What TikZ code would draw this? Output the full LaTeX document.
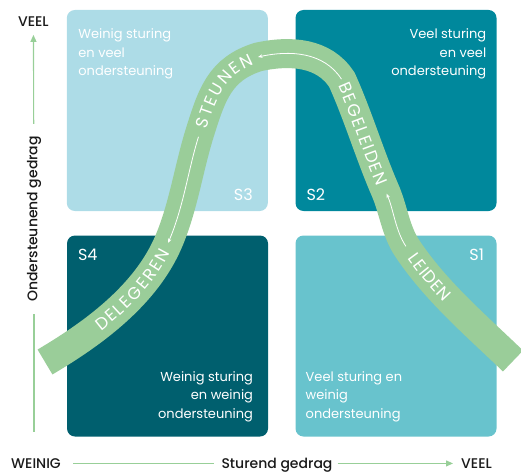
\documentclass[tikz,border=0pt]{standalone}
\usepackage{fontspec}
\setmainfont{Poppins}
\IfFontExistsTF{Poppins Medium}{\newfontfamily\axisfont{Poppins Medium}}{\newfontfamily\axisfont[FakeBold=0.8]{Poppins}}
\newfontfamily\bandfont{Poppins}
\usetikzlibrary{arrows.meta,decorations.text,positioning}

\definecolor{lightq}{HTML}{ADDCE7}
\definecolor{tealq}{HTML}{00889C}
\definecolor{darkq}{HTML}{005F6E}
\definecolor{midq}{HTML}{68C3CD}
\definecolor{bandgreen}{HTML}{9ACD99}
\definecolor{axisgreen}{HTML}{98CF98}
\definecolor{ink}{HTML}{1A1A1A}

% pieces of the green band, joint to joint
\newcommand\bandA{.. controls (94,333) and (145,295.4) .. (bA)}
\newcommand\bandB{.. controls (183.4,207.6) and (188.5,168.6) .. (bB)}
\newcommand\bandC{.. controls (212,94) and (220,69) .. (bC)}
\newcommand\bandD{.. controls (290,50) and (324,52) .. (bD)}
\newcommand\bandE{.. controls (358,115.5) and (369.4,154) .. (bE)}
\newcommand\bandF{.. controls (393.4,209.3) and (395.5,230.6) .. (bF)}
\newcommand\bandG{.. controls (435.6,291) and (475.6,325) .. (bG)}

\begin{document}
\begin{tikzpicture}[x=1pt,y=-1pt,
  quad/.style={rounded corners=8pt,minimum width=201pt,minimum height=201pt,inner sep=0pt},
  qtext/.style={text=white,font=\fontsize{13}{18.4}\selectfont,inner sep=0pt},
  qlabel/.style={text=white,font=\fontsize{16}{16}\selectfont,inner sep=0pt},
  axislabel/.style={text=ink,font=\axisfont\fontsize{14}{14}\selectfont,inner sep=0pt},
  axisline/.style={draw=axisgreen,line width=1.1pt},
  bandline/.style={draw=bandgreen,line width=29pt},
  flowback/.style={draw=white,line width=0.8pt,{Stealth[length=4.5pt,width=3.5pt]}-},
  word/.style n args={3}{decorate,decoration={text along path,
    text={|\bandfont\fontsize{17}{17}\selectfont\color{white}|#1},
    text align={fit to path,left indent=#2,right indent=#3},raise=-5.9pt}}]
\useasboundingbox (0,0) rectangle (521,473);

\node[quad,fill=lightq] (s3) at (167.3,110.5) {};
\node[quad,fill=tealq] (s2) at (396,110.5) {};
\node[quad,fill=darkq] (s4) at (167.5,336) {};
\node[quad,fill=midq] (s1) at (396,336) {};

\node[qtext,anchor=base west,align=left] (t3) at ([shift={(11.6,66)}]s3.north west) {Weinig sturing\\en veel\\ondersteuning};
\node[qtext,anchor=base east,align=right] (t2) at ([shift={(-10.3,66)}]s2.north east) {Veel sturing\\en veel\\ondersteuning};
\node[qtext,anchor=base east,align=right] (t4) at ([shift={(-15,-18.5)}]s4.south east) {Weinig sturing\\en weinig\\ondersteuning};
\node[qtext,anchor=base west,align=left] (t1) at ([shift={(10.2,-18.5)}]s1.south west) {Veel sturing en\\weinig\\ondersteuning};

\node[qlabel,anchor=base east] (l3) at ([shift={(-15,-10.5)}]s3.south east) {S3};
\node[qlabel,anchor=base west] (l2) at ([shift={(11,-10.5)}]s2.south west) {S2};
\node[qlabel,anchor=base west] (l4) at ([shift={(11,25)}]s4.north west) {S4};
\node[qlabel,anchor=base east] (l1) at ([shift={(-12.5,25)}]s1.north east) {S1};

% band
\coordinate (b0) at (45,362);
\coordinate (bA) at (168,243);
\coordinate (bB) at (200,132);
\coordinate (bC) at (258,57);
\coordinate (bD) at (342,80);
\coordinate (bE) at (385,190);
\coordinate (bF) at (407,248);
\coordinate (bG) at (513,361);
\draw[bandline] (b0) \bandA \bandB \bandC \bandD \bandE \bandF \bandG;

\path[word={DELEGEREN}{63pt}{8pt}] (b0) \bandA;
\path[word={STEUNEN}{4pt}{7pt}] (bB) \bandC;
\path[word={BEGELEIDEN}{4pt}{6pt}] (bD) \bandE;
\path[word={LEIDEN}{9pt}{90pt}] (bF) \bandG;

\draw[flowback,shorten >=5pt] (bA) \bandB;
\draw[flowback,shorten >=1pt] (bC) \bandD;
\draw[flowback,shorten <=4pt,shorten >=2pt] (bE) \bandF;

% axes
\node[axislabel,anchor=base] (veelY) at (33.4,26.7) {VEEL};
\node[axislabel,rotate=90] (ylabel) at (34,219) {Ondersteunend gedrag};
\coordinate (yend) at (34,432);
\node[axislabel,anchor=base] (weinig) at (36,468.3) {WEINIG};
\node[axislabel,anchor=base] (xlabel) at (277,468.3) {Sturend gedrag};
\node[axislabel,anchor=base] (veelX) at (476.5,468.3) {VEEL};

\draw[axisline,-{Triangle[length=7pt,width=6pt]},shorten <=12pt,shorten >=8pt] (ylabel) -- (veelY);
\draw[axisline,shorten <=12pt] (ylabel) -- (yend);
\draw[axisline,shorten <=12pt,shorten >=7pt] (weinig.east) -- (weinig.east -| xlabel.west);
\draw[axisline,-{Triangle[length=7pt,width=6pt]},shorten <=5pt,shorten >=8pt] (veelX.west -| xlabel.east) -- (veelX.west);
\end{tikzpicture}
\end{document}
